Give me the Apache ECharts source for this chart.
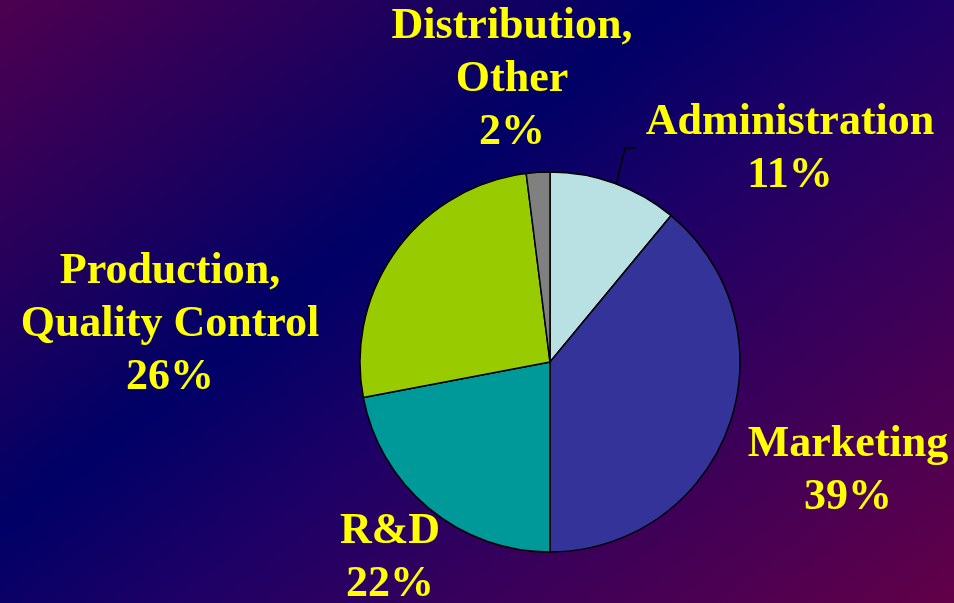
<!DOCTYPE html>
<html>
<head>
<meta charset="utf-8">
<script src="https://cdn.jsdelivr.net/npm/echarts@6/dist/echarts.min.js"></script>
<style>
html,body{margin:0;padding:0;width:954px;height:603px;overflow:hidden;}
#c{width:954px;height:603px;}
</style>
</head>
<body>
<div id="c"></div>
<script>
const categories = ['Administration', 'Marketing', 'R&D', 'Production,\nQuality Control', 'Distribution,\nOther'];
const values = [11, 39, 22, 26, 2];
const sliceColors = ['#b9e0e3', '#333399', '#009999', '#99cc00', '#808080'];

// label centre positions (pixels) per slice
const labelPos = [[790, 149], [848, 471], [390, 558], [170, 325], [512, 80]];

const chart = echarts.init(document.getElementById('c'), null, {renderer: 'canvas'});
chart.setOption({
  animation: false,
  backgroundColor: {
    type: 'linear', global: true,
    x: 0, y: 0, x2: 653, y2: 838,
    colorStops: [
      {offset: 0, color: '#4e0050'},
      {offset: 0.39, color: '#000066'},
      {offset: 0.55, color: '#1e0066'},
      {offset: 1, color: '#620048'}
    ]
  },
  series: [{
    type: 'pie',
    center: [550, 362],
    radius: 190,
    startAngle: 90,
    clockwise: true,
    avoidLabelOverlap: false,
    itemStyle: {borderColor: '#000', borderWidth: 1.5},
    label: {
      show: true,
      position: 'outside',
      formatter: '{b}\n{d}%',
      color: '#ffff00',
      fontFamily: '"Liberation Serif", "Times New Roman", serif',
      fontWeight: 'bold',
      fontSize: 44,
      lineHeight: 53,
      align: 'center'
    },
    labelLine: {show: false},
    labelLayout: function (p) {
      const pos = labelPos[p.dataIndex];
      const res = {x: pos[0], y: pos[1], align: 'center', verticalAlign: 'middle'};
      if (p.dataIndex === 0) {
        res.labelLinePoints = [[616, 185], [625, 148], [636, 148]];
      }
      return res;
    },
    data: categories.map((n, i) => ({
      name: n,
      value: values[i],
      itemStyle: {color: sliceColors[i]},
      labelLine: i === 0 ? {show: true, lineStyle: {color: '#000', width: 1.5}} : {show: false}
    }))
  }]
});
</script>
</body>
</html>
